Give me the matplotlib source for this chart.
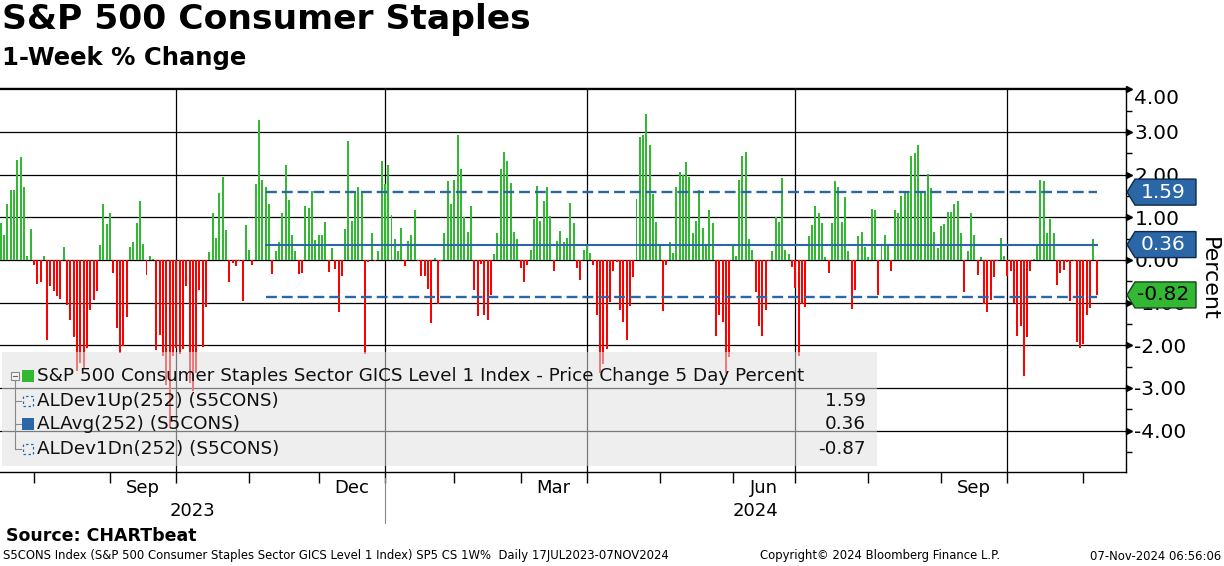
import numpy as np
import pandas as pd
import matplotlib
matplotlib.use("Agg")
import matplotlib.pyplot as plt
import matplotlib.transforms as mtransforms
from matplotlib.patches import Polygon, Rectangle
from matplotlib.lines import Line2D
from matplotlib.ticker import FormatStrFormatter

plt.rcParams["font.family"] = ["DejaVu Sans"]
plt.rcParams["axes.unicode_minus"] = False

# ---------------- data ----------------
# NYSE holidays inside the window (daily bars are trading days)
holidays = ["2023-09-04", "2023-11-23", "2023-12-25", "2024-01-01", "2024-01-15",
            "2024-02-19", "2024-03-29", "2024-05-27", "2024-06-19", "2024-07-04",
            "2024-09-02"]
dates = pd.bdate_range("2023-07-18", "2024-11-07", freq="C", holidays=holidays)

# 5 day % change
pct_change = [
    0.87, 0.59, 1.30, 1.65, 1.65, 2.35, 2.42, 1.70, 0.09, 0.73,
    -0.12, -0.57, -0.52, 0.10, -1.88, -0.60, -0.73, -0.85, -0.91, 0.31,
    -1.06, -1.41, -1.81, -2.61, -2.41, -2.53, -2.06, -1.18, -0.93, -0.73,
    0.34, 1.30, 0.84, 1.09, -0.31, -1.60, -2.18, -2.02, -1.34, 0.31,
    0.43, 0.87, 1.37, 0.38, -0.36, 0.10, 0.02, -2.10, -1.77, -2.26,
    -2.92, -3.94, -2.26, -2.06, -2.20, -2.08, -0.62, -2.88, -3.08, -2.65,
    -0.70, -2.04, -1.11, 0.19, 1.11, 0.52, 1.58, 1.95, 0.71, -0.52,
    -0.07, -0.15, -0.02, -0.97, 0.83, 0.24, -0.12, 1.77, 3.27, 1.87,
    1.70, 1.32, -0.34, 0.22, 0.41, 1.11, 2.23, 1.41, 0.58, 0.20,
    -0.34, -0.31, 1.27, 1.21, 1.62, 0.46, 0.58, 0.58, 0.90, -0.29,
    0.29, -0.22, -1.23, -0.38, 0.72, 2.78, 0.92, 1.60, 1.70, 1.60,
    -2.20, -0.05, 0.64, -0.02, 0.22, 2.33, 1.79, 2.23, 1.06, 0.48,
    0.20, 0.76, -0.15, 0.45, 0.58, 1.16, -0.02, -0.38, -0.38, -0.68,
    -1.48, 0.05, -1.03, -0.03, 0.63, 1.84, 1.32, 1.88, 2.94, 2.13,
    1.00, 0.66, 1.27, -0.71, -1.32, -0.10, -1.30, -1.41, -0.83, 0.15,
    0.64, 2.12, 2.52, 2.31, 1.81, 0.66, 0.48, -0.20, -0.52, -0.12,
    0.24, 0.95, 1.74, 0.92, 1.39, 1.70, 1.02, -0.27, 0.45, 0.69,
    0.41, 0.52, 1.34, 0.87, -0.20, -0.48, 0.24, 0.36, 0.17, -0.12,
    -1.30, -2.65, -2.45, -2.09, -0.99, -0.27, -0.05, -1.18, -1.46, -1.88,
    -1.09, -0.41, 1.44, 2.87, 2.94, 3.43, 2.70, 1.55, 0.90, 0.34,
    -1.20, -0.12, 0.41, 0.17, 1.70, 2.05, 2.00, 2.30, 1.95, 0.62,
    0.92, 1.65, 0.76, 0.34, 1.16, 0.87, -1.79, -1.30, -1.46, -2.65,
    -2.27, 0.34, 0.10, 1.88, 2.44, 2.54, 0.48, 0.24, -0.76, -1.55,
    -1.79, -1.18, -0.02, 0.20, 1.00, 0.90, 1.91, 0.24, 0.13, -0.17,
    -0.65, -2.26, -1.04, -1.11, 0.57, 0.83, 1.27, 1.11, 0.87, 0.08,
    -0.31, 0.87, 1.86, 1.72, 0.90, 1.48, 0.22, -1.16, -0.71, 0.55,
    0.66, 0.31, 0.08, 1.20, 1.16, -0.83, 0.34, 0.59, 0.34, -0.27,
    1.18, 1.09, 1.51, 1.60, 1.60, 2.44, 2.51, 2.70, 1.58, 1.62,
    2.02, 1.69, 0.66, 0.29, 0.80, 0.85, 1.13, 1.13, 1.30, 1.39,
    0.62, -0.76, 0.20, 1.11, 0.59, -0.36, 0.08, -1.04, -1.23, -0.95,
    -0.41, -0.03, 0.52, 0.10, -0.38, -0.27, -1.01, -1.79, -1.55, -2.73,
    -1.81, -0.27, 0.02, 0.36, 1.88, 1.84, 0.62, 0.97, 0.62, -0.59,
    -0.31, -0.24, -0.05, -0.97, -0.03, -1.93, -2.07, -1.98, -1.30, -1.13,
    0.50, -0.82,
]

dev_up = 1.59
avg = 0.36
dev_dn = -0.87
last_value = -0.82
band_start = "2023-11-08"   # 252 trading days back

label_months = [3, 6, 9, 12]
grid_months = [1, 4, 7, 10]
legend_labels = ["S&P 500 Consumer Staples Sector GICS Level 1 Index - Price Change 5 Day Percent",
                 "ALDev1Up(252) (S5CONS)", "ALAvg(252) (S5CONS)", "ALDev1Dn(252) (S5CONS)"]
legend_values = ["", "1.59", "0.36", "-0.87"]

GREEN = "#33b833"
RED = "#ff0000"
BLUE = "#2b66a6"

W, H = 1224, 566


def fx(px):
    return px / W


def fy(py):
    return 1 - py / H


fig = plt.figure(figsize=(W / 100, H / 100), dpi=100)
ax = fig.add_axes([0, fy(472), fx(1126), (472 - 88) / H])

x = np.arange(len(dates))
colors = [GREEN if v >= 0 else RED for v in pct_change]
ax.bar(x, pct_change, width=0.6, color=colors, linewidth=0, zorder=2)

ax.set_xlim(-0.25, 339.85)
ax.set_ylim(-4.97, 4.03)

# month starts / quarter grid
month_start = [i for i in range(1, len(dates)) if dates[i].month != dates[i - 1].month]
for i in month_start:
    if dates[i].month in grid_months:
        ax.axvline(i, color="black", lw=0.9, zorder=1)

ax.set_yticks(np.arange(-4, 5, 1))
ax.set_yticks(np.arange(-4.5, 4.0, 1.0), minor=True)
ax.yaxis.grid(True, which="major", color="black", lw=0.9)
ax.set_axisbelow(True)
ax.yaxis.tick_right()
ax.yaxis.set_major_formatter(FormatStrFormatter("%.2f"))
ax.tick_params(axis="y", which="major", length=0, pad=6, labelsize=14.5)
ax.tick_params(axis="y", which="minor", length=4, width=1, direction="out", color="black")
# top label sits a little lower in the reference
ax.get_yticklabels()[-1].set_va("top")

# arrow-head major ticks on the right axis
yt = mtransforms.blended_transform_factory(ax.transAxes, ax.transData)
ax.plot([1 + 3 / 1126] * 9, np.arange(-4, 5, 1), ls="none", marker=">", ms=4.5,
        color="black", transform=yt, clip_on=False, zorder=3)

ax.set_xticks(month_start)
ax.set_xticklabels([])
ax.tick_params(axis="x", length=8, width=1, direction="out", color="black")

ax.spines["left"].set_visible(False)
for s in ["top", "right", "bottom"]:
    ax.spines[s].set_color("black")
    ax.spines[s].set_linewidth(1)

# month and year labels
xt = mtransforms.blended_transform_factory(ax.transData, fig.transFigure)
bounds = month_start + [len(dates)]
for k, i in enumerate(month_start):
    if dates[i].month in label_months:
        mid = (i + bounds[k + 1]) / 2
        ax.text(mid, fy(488), dates[i].strftime("%b"), transform=xt, ha="center",
                va="center", fontsize=13, clip_on=False)
jan = [i for i in month_start if dates[i].month == 1][0]
ax.text((-0.25 + jan) / 2, fy(511), "2023", transform=xt, ha="center", va="center",
        fontsize=13, clip_on=False)
ax.text((jan + 339.85) / 2, fy(511), "2024", transform=xt, ha="center", va="center",
        fontsize=13, clip_on=False)
ax.add_line(Line2D([jan, jan], [fy(478), fy(523)], transform=xt, color="#888888",
                   lw=0.8, clip_on=False))

# 252 day bands
i0 = dates.get_loc(pd.Timestamp(band_start))
xb = [i0, len(dates) - 1]
ax.plot(xb, [dev_up, dev_up], color=BLUE, lw=1.7, ls=(0, (4.6, 2.1)), zorder=4)
ax.plot(xb, [avg, avg], color=BLUE, lw=1.5, zorder=4)
ax.plot(xb, [dev_dn, dev_dn], color=BLUE, lw=1.7, ls=(0, (4.6, 2.1)), zorder=4)


# value tags on the right axis
def tag(v, text, face, edge, tcolor):
    h = 13 / 42.67
    tip, bl, r = 1 + 1 / 1126, 1 + 9 / 1126, 1 + 70 / 1126
    ax.add_patch(Polygon([(tip, v), (bl, v + h), (r, v + h), (r, v - h), (bl, v - h)],
                         closed=True, transform=yt, facecolor=face, edgecolor=edge,
                         lw=1.0, clip_on=False, zorder=20))
    ax.text(1 + 37 / 1126, v, text, transform=yt, ha="center", va="center",
            fontsize=14.5, color=tcolor, clip_on=False, zorder=21)


tag(dev_up, "1.59", BLUE, "#0d2a4a", "white")
tag(avg, "0.36", BLUE, "#0d2a4a", "white")
tag(last_value, "-0.82", GREEN, "#15451a", "black")

fig.text(fx(1209), fy(279), "Percent", rotation=270, fontsize=16, ha="center", va="center")

# legend block
fig.add_artist(Rectangle((fx(2), fy(466)), fx(875), 114 / H, transform=fig.transFigure,
                         facecolor="#e0e0e0", alpha=0.55, edgecolor="none", zorder=10))
rows_y = [376, 401, 424, 449]
fig.add_artist(Line2D([fx(15), fx(15)], [fy(380), fy(449)], transform=fig.transFigure,
                      color="#888888", lw=0.8, zorder=11))
for ry in rows_y[1:]:
    fig.add_artist(Line2D([fx(15), fx(21)], [fy(ry), fy(ry)], transform=fig.transFigure,
                          color="#888888", lw=0.8, zorder=11))
fig.add_artist(Rectangle((fx(11), fy(380)), 8 / W, 8 / H, transform=fig.transFigure,
                         facecolor="#f4f4f4", edgecolor="#888888", lw=0.8, zorder=12))
fig.add_artist(Line2D([fx(13), fx(17)], [fy(376), fy(376)], transform=fig.transFigure,
                      color="#666666", lw=0.8, zorder=13))
for k, ry in enumerate(rows_y):
    if k in (0, 2):
        fig.add_artist(Rectangle((fx(22), fy(ry + 6)), 12 / W, 12 / H,
                                 transform=fig.transFigure, facecolor=GREEN if k == 0 else BLUE,
                                 edgecolor="none", zorder=12))
    else:
        fig.add_artist(Rectangle((fx(23), fy(ry + 5)), 10 / W, 10 / H,
                                 transform=fig.transFigure, facecolor="none", edgecolor=BLUE,
                                 lw=0.9, ls=(0, (2, 2)), zorder=12))
    fig.text(fx(37), fy(ry), legend_labels[k], fontsize=13.2, va="center", color="#111111",
             zorder=12)
    if legend_values[k]:
        fig.text(fx(866), fy(ry), legend_values[k], fontsize=13.2, va="center", ha="right",
                 color="#111111", zorder=12)

# titles and footer
fig.text(fx(2), fy(3), "S&P 500 Consumer Staples", fontsize=24.8, fontweight="bold", va="top")
fig.text(fx(2), fy(46), "1-Week % Change", fontsize=17.5, fontweight="bold", va="top")
fig.text(fx(6), fy(536), "Source: CHARTbeat", fontsize=12.5, fontweight="bold", va="center")
fig.text(fx(3), fy(556), "S5CONS Index (S&P 500 Consumer Staples Sector GICS Level 1 Index) "
         "SP5 CS 1W%  Daily 17JUL2023-07NOV2024", fontsize=8.4, va="center")
fig.text(fx(760), fy(556), "Copyright\u00a9 2024 Bloomberg Finance L.P.", fontsize=8.4,
         va="center")
fig.text(fx(1221), fy(556), "07-Nov-2024 06:56:06", fontsize=8.4, va="center", ha="right")

fig.savefig("out.png", dpi=100)
